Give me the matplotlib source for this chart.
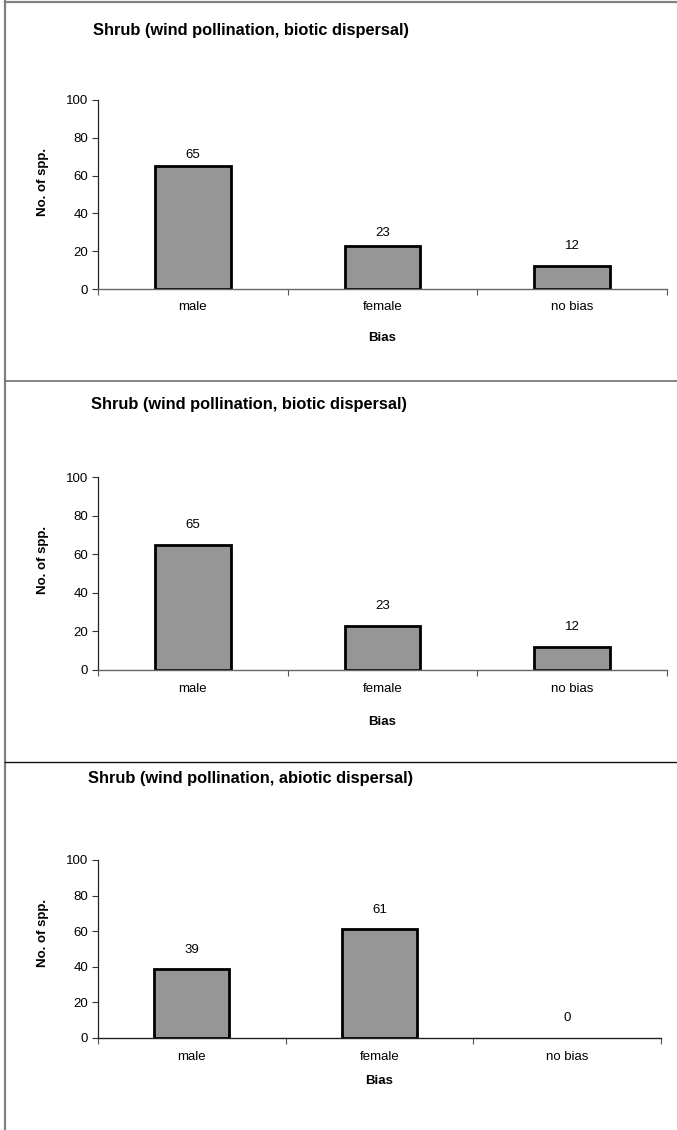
import matplotlib
matplotlib.use("Agg")
import matplotlib.pyplot as plt
from matplotlib.lines import Line2D

plt.rcParams['font.family'] = ['Liberation Sans', 'DejaVu Sans']

# ---- data ----
categories = ["male", "female", "no bias"]
titles = [
    "Shrub (wind pollination, biotic dispersal)",
    "Shrub (wind pollination, biotic dispersal)",
    "Shrub (wind pollination, abiotic dispersal)",
]
panel1_values = [65, 23, 12]
panel2_values = [65, 23, 12]
panel3_values = [39, 61, 0]
yticks = [0, 20, 40, 60, 80, 100]
ylabel = "No. of spp."
xlabel = "Bias"

values_all = [panel1_values, panel2_values, panel3_values]

# ---- layout (pixels) ----
W, H = 677, 1130
fig = plt.figure(figsize=(W / 100, H / 100), dpi=100)

# (left, right, top(100), bottom(0)) in px
axes_px = [(98, 667, 100, 289), (98, 667, 477, 670), (98, 661, 860, 1038)]
title_px = [(251, 30), (249, 404), (251, 779)]
ylabel_px = [(43, 182), (43, 560), (43, 933)]
xlabel_px = [(382, 338), (382, 722), (379, 1081)]
label_gap_px = [[11, 13, 20], [20, 20, 20], [19, 19, 20]]
xaxis_color = ["#666666", "#666666", "#222222"]

small = 9.5

def fx(x):
    return x / W

def fy(y):
    return 1 - y / H

for i, (vals, (l, r, t, b)) in enumerate(zip(values_all, axes_px)):
    ax = fig.add_axes([fx(l), fy(b), (r - l) / W, (b - t) / H])
    xs = list(range(len(categories)))
    lws = [2.0 if v > 0 else 0 for v in vals]
    bars = ax.bar(xs, vals, width=0.4, color="#969696", edgecolor="black",
                  linewidth=lws, zorder=3)
    ax.set_xlim(-0.5, len(categories) - 0.5)
    ax.set_ylim(0, 100)
    ax.set_yticks(yticks)
    ax.set_yticklabels([str(v) for v in yticks], fontsize=small)
    ax.set_xticks(xs)
    ax.set_xticklabels(categories, fontsize=small)
    ax.tick_params(axis='x', which='major', length=0, pad=9)
    ax.set_xticks([x - 0.5 for x in xs] + [len(categories) - 0.5], minor=True)
    ax.tick_params(axis='x', which='minor', length=4, width=0.8, color="#555555", direction='out')
    ax.tick_params(axis='y', length=4, width=0.8, color="#333333", pad=3)
    for s in ["top", "right"]:
        ax.spines[s].set_visible(False)
    ax.spines["left"].set_color("#222222")
    ax.spines["left"].set_linewidth(0.9)
    ax.spines["bottom"].set_color(xaxis_color[i])
    ax.spines["bottom"].set_linewidth(1.0)
    ax.spines["bottom"].set_zorder(4)
    for j, (bar, v) in enumerate(zip(bars, vals)):
        ax.annotate(str(v), (bar.get_x() + bar.get_width() / 2, v),
                    xytext=(0, label_gap_px[i][j] * 0.72), textcoords="offset points",
                    ha="center", va="center", fontsize=small)
    tx, ty = title_px[i]
    fig.text(fx(tx), fy(ty), titles[i], ha="center", va="center",
             fontsize=11.8, fontweight="bold")
    lx, ly = ylabel_px[i]
    fig.text(fx(lx), fy(ly), ylabel, ha="center", va="center", rotation=90,
             fontsize=small, fontweight="bold")
    bx, by = xlabel_px[i]
    fig.text(fx(bx), fy(by), xlabel, ha="center", va="center",
             fontsize=small, fontweight="bold")

# frame lines
fig.add_artist(Line2D([fx(5), fx(5)], [0, 1], color="#808080", linewidth=1.6))
fig.add_artist(Line2D([fx(5), 1], [fy(2), fy(2)], color="#808080", linewidth=1.6))
fig.add_artist(Line2D([fx(5), 1], [fy(381), fy(381)], color="#707070", linewidth=1.2))
fig.add_artist(Line2D([fx(5), 1], [fy(762), fy(762)], color="#111111", linewidth=1.0))

fig.savefig("out.png", dpi=100)
